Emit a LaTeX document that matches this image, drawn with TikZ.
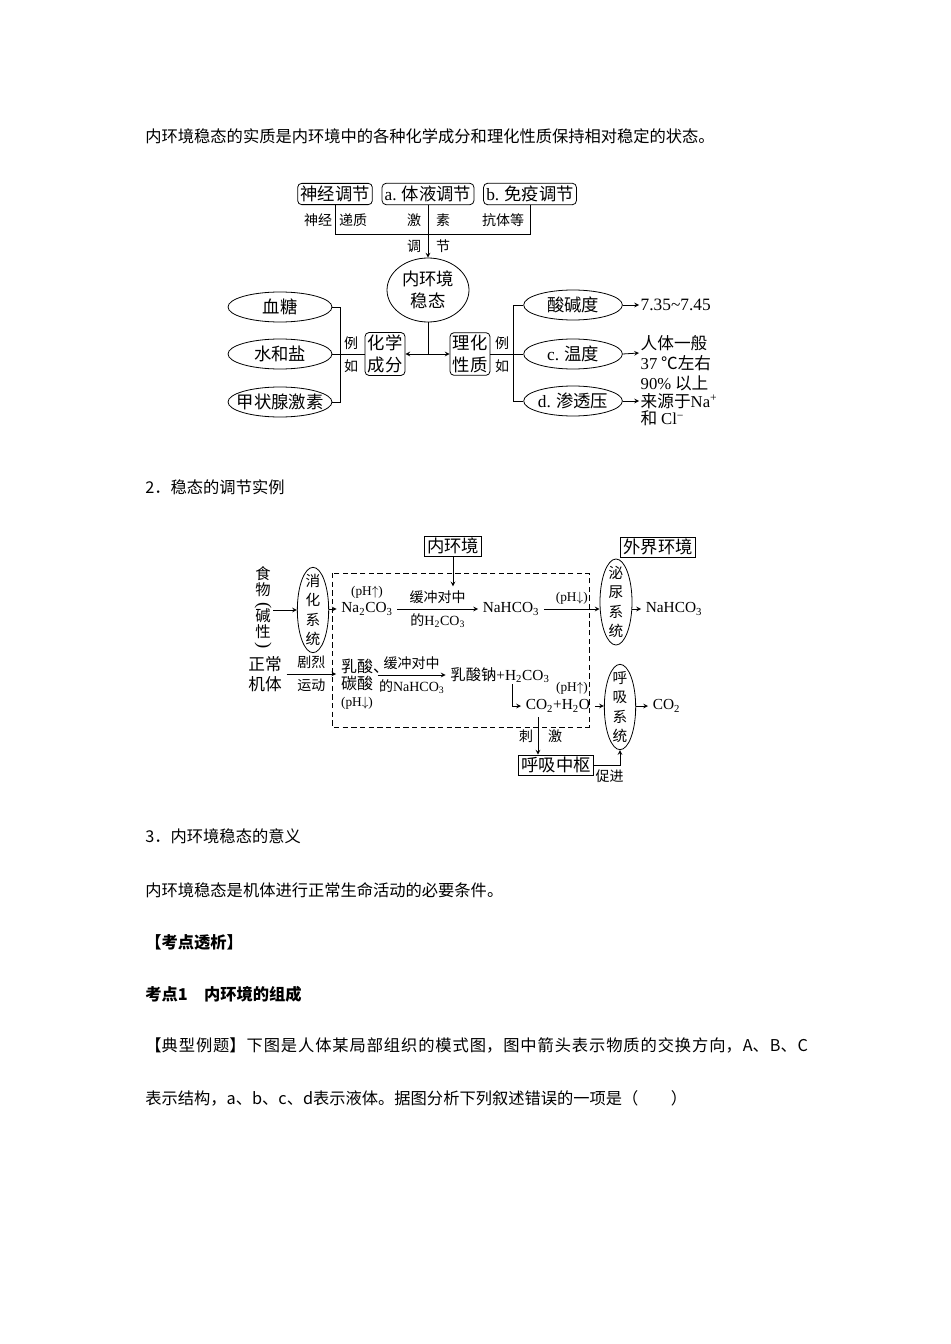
\documentclass[tikz,border=0pt]{standalone}
\usepackage{fontspec}
\usepackage{graphicx}
\setmainfont{Noto Sans CJK SC}
\newfontfamily\lat{Liberation Serif}
\usetikzlibrary{shapes.geometric}
\XeTeXlinebreaklocale "zh"
\XeTeXlinebreakskip=0pt plus 1pt
\newcommand\vparen[1]{\rotatebox[origin=c]{-90}{\lat\fontsize{14}{14}\selectfont#1}}
\begin{document}
\begin{tikzpicture}[x=0.75pt,y=-0.75pt,>=stealth,line width=0.6pt,
  body/.style={anchor=west,inner sep=0pt,font=\fontsize{12.2}{15}\selectfont},
  big/.style={font=\fontsize{13}{16}\selectfont},
  vert/.style={font=\fontsize{11}{14.5}\selectfont,align=center},
  sml/.style={font=\fontsize{10.5}{12}\selectfont},
  lt/.style={font=\lat\fontsize{11.5}{13}\selectfont},
  ltsm/.style={font=\lat\fontsize{10}{12}\selectfont},
  rbox/.style={draw,rounded corners=3pt,inner xsep=2pt,inner ysep=2pt,big},
  sbox/.style={draw,inner xsep=2pt,inner ysep=1.5pt,big},
  ell/.style={draw,ellipse,inner sep=0pt}]
\fill[white] (0,0) rectangle (950,1344);
\useasboundingbox (0,0) rectangle (950,1344);
% page text
\node[body] (t1) at (145,136) {内环境稳态的实质是内环境中的各种化学成分和理化性质保持相对稳定的状态。};
\node[body] (t2) at (145,487) {2．稳态的调节实例};
\node[body] (t3) at (145,836) {3．内环境稳态的意义};
\node[body] (t4) at (145,890) {内环境稳态是机体进行正常生命活动的必要条件。};
\node[body,font=\fontsize{12.2}{15}\selectfont\bfseries] (t5) at (145,942) {【考点透析】};
\node[body,font=\fontsize{12.2}{15}\selectfont\bfseries] (t6) at (145,994) {考点1　内环境的组成};
\node[body,anchor=north west,text width=497pt,align=justify,font=\fontsize{12.2}{39.75}\selectfont] (t7) at (145,1037)
  {【典型例题】下图是人体某局部组织的模式图，图中箭头表示物质的交换方向，A、B、C\linebreak 表示结构，a、b、c、d表示液体。据图分析下列叙述错误的一项是（　　）};
% diagram 1
\node[rbox] (sjtj) at (335,194) {神经调节};
\node[rbox] (tytj) at (428,194) {{\lat a.} 体液调节};
\node[rbox] (mytj) at (530,194) {{\lat b.} 免疫调节};
\coordinate (jn) at (428,234);
\draw (sjtj.south) -- (sjtj.south |- jn) -- (mytj.south |- jn) -- (mytj.south);
\node[ell,big,align=center,minimum width=61.5pt,minimum height=48pt] (wt) at (428,290) {内环境\\稳态};
\draw[->] (tytj.south) -- (wt.north);
\node[sml] (l1) at (318,220) {神经};
\node[sml] (l2) at (353,220) {递质};
\node[sml] (l3) at (414,220) {激};
\node[sml] (l4) at (443,220) {素};
\node[sml] (l5) at (503,220) {抗体等};
\node[sml] (l6) at (414,246) {调};
\node[sml] (l7) at (443,246) {节};
\coordinate (jd) at (428,354);
\node[rbox,align=center] (hx) at (385,354) {化学\\成分};
\node[rbox,align=center] (lh) at (470,354) {理化\\性质};
\draw (wt.south) -- (jd);
\draw[->] (jd) -- (hx.east);
\draw[->] (jd) -- (lh.west);
\node[ell,minimum width=78pt,minimum height=22.5pt,label={[big]center:血糖}] (xt) at (280,307) {};
\node[ell,minimum width=78pt,minimum height=22.5pt,label={[big]center:水和盐}] (shy) at (280,354) {};
\node[ell,minimum width=78pt,minimum height=22.5pt,label={[big]center:甲状腺激素}] (jzx) at (280,402) {};
\coordinate (jl) at (340,354);
\draw (xt.east) -- (xt.east -| jl) -- (jzx.east -| jl) -- (jzx.east);
\draw (shy.east) -- (hx.west);
\node[sml] (l8) at (351,343) {例};
\node[sml] (l9) at (351,366) {如};
\node[ell,minimum width=74pt,minimum height=22.5pt,label={[big]center:酸碱度}] (sjd) at (573,305) {};
\node[ell,minimum width=74pt,minimum height=22.5pt,label={[big]center:{{\lat c.} 温度}}] (wd) at (573,354) {};
\node[ell,minimum width=74pt,minimum height=22.5pt,label={[big]center:{{\lat d.} 渗透压}}] (stl) at (573,401) {};
\coordinate (jr) at (513,354);
\draw (lh.east) -- (jr);
\draw (sjd.west) -- (sjd.west -| jr) -- (stl.west -| jr) -- (stl.west);
\draw (jr) -- (wd.west);
\node[sml] (l10) at (502,343) {例};
\node[sml] (l11) at (502,366) {如};
\node[big,anchor=west,inner sep=1pt] (ph) at (639,305) {\lat 7.35\textasciitilde7.45};
\node[anchor=west,inner sep=1pt,align=left,font=\fontsize{12.5}{14.5}\selectfont] (tw) at (639,353) {人体一般\\{\lat 37} ℃左右};
\node[anchor=west,inner sep=1pt,align=left,font=\fontsize{12.5}{13.2}\selectfont] (sty) at (639,401) {{\lat 90\%} 以上\\来源于{\lat Na\textsuperscript{+}}\\和 {\lat Cl\textsuperscript{−}}};
\draw[->] (sjd.east) -- (ph.west);
\draw[->] (wd.east) -- (tw.west);
\draw[->] (stl.east) -- (sty.west);
% diagram 2
\node[sbox] (nhj) at (453,546) {内环境};
\node[sbox] (wjhj) at (658,547) {外界环境};
\draw[dashed,dash pattern=on 4pt off 2.5pt] (332,573) rectangle (589,727);
\node[ell,minimum width=23.5pt,minimum height=64pt,label={[vert]center:消\\化\\系\\统}] (xh) at (313,610) {};
\node[ell,minimum width=24pt,minimum height=64.5pt,label={[vert]center:泌\\尿\\系\\统}] (mn) at (616,602) {};
\node[ell,minimum width=23.5pt,minimum height=64pt,label={[vert]center:呼\\吸\\系\\统}] (hx2) at (620,707) {};
\node[align=center,inner sep=1pt,font=\fontsize{11.5}{12}\selectfont] (sw) at (263,608)
  {食\\物\\[-1pt]\vparen{(}\\[-3pt]碱\\性\\[-3pt]\vparen{)}};
\draw[->] (sw.east |- xh.west) -- (xh.west);
\node[lt] (nac) at (367,609) {Na\textsubscript{2}CO\textsubscript{3}};
\node[ltsm] (ph1) at (367,592) {(pH$\uparrow$)};
\draw[->] (xh.east |- nac) -- (nac.west);
\node[lt] (nah) at (511,609) {NaHCO\textsubscript{3}};
\draw[->] (nac.east) -- (nah.west) node[midway,above,sml] (hz1) {缓冲对中} node[midway,below,sml] {的{\lat H\textsubscript{2}CO\textsubscript{3}}};
\draw[->] (nhj.south) -- (nhj.south |- hz1.north);
\draw[->] (nah.east) -- (mn.west |- nah) node[midway,above,ltsm] {(pH$\downarrow$)};
\node[lt,anchor=west] (nah2) at (641,609) {NaHCO\textsubscript{3}};
\draw[->] (mn.east |- nah2) -- (nah2.west);
\node[align=center,font=\fontsize{12.5}{15}\selectfont] (zc) at (265,674) {正常\\机体};
\node[align=left,font=\fontsize{12}{12.5}\selectfont] (rs) at (357,675) {乳酸\rlap{、}\\碳酸};
\node[ltsm] (ph3) at (357,703) {(pH$\downarrow$)};
\draw[->] (zc.east) -- (zc.east -| rs.west) node[midway,above,sml] {剧烈} node[midway,below,sml] {运动};
\node[font=\fontsize{11.5}{13}\selectfont] (rn) at (500,675) {乳酸钠{\lat +H\textsubscript{2}CO\textsubscript{3}}};
\draw[->] (rs.east) -- (rn.west) node[midway,above,sml] {缓冲对中} node[midway,below,sml] {的{\lat NaHCO\textsubscript{3}}};
\node[lt,anchor=west] (co) at (521,706) {CO\textsubscript{2}+H\textsubscript{2}O};
\coordinate (rnd) at (512,684);
\draw[->] (rnd) |- (co.west);
\node[ltsm] (ph4) at (572,688) {(pH$\uparrow$)};
\draw[->] (co.east) -- (hx2.west |- co);
\node[lt,anchor=west] (co2) at (648,706) {CO\textsubscript{2}};
\draw[->] (hx2.east |- co2) -- (co2.west);
\node[sbox] (hxzs) at (556,765) {呼吸中枢};
\path (co.south west) ++(17,0) coordinate (cod);
\draw[->] (cod) -- (cod |- hxzs.north) node[midway,left,sml] {刺} node[midway,right,sml,xshift=4pt] {激};
\draw[->] (hxzs.east) -| (hx2.south) node[pos=0.3,below,sml] {促进};
\end{tikzpicture}
\end{document}
